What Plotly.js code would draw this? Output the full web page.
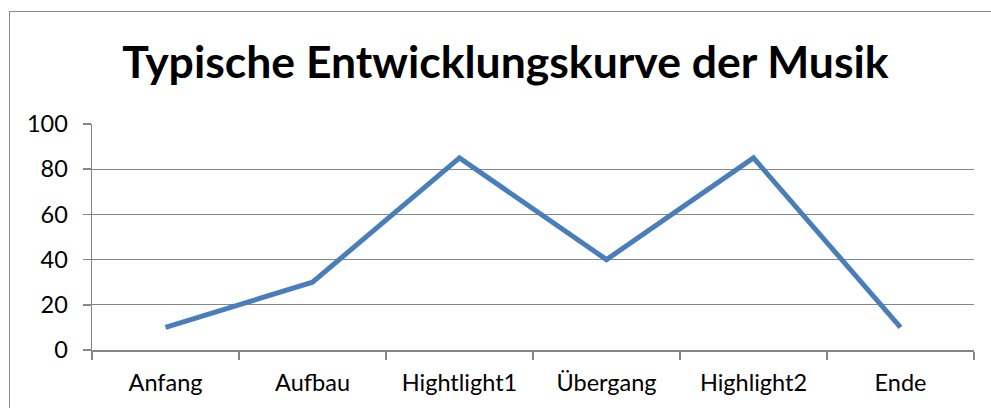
<!DOCTYPE html>
<html><head><meta charset="utf-8">
<script src="https://cdn.plot.ly/plotly-3.0.1.min.js"></script>
<style>
html,body{margin:0;padding:0;background:#fff;overflow:hidden}
#frame{position:absolute;left:9px;top:11px;width:1100px;height:500px;border:1.5px solid #8a8a8a;box-sizing:border-box}
#chart{position:absolute;left:0;top:0;width:991px;height:408px}
</style></head>
<body>
<div id="frame"></div>
<div id="chart"></div>
<script>
const categories = ["Anfang", "Aufbau", "Hightlight1", "Übergang", "Highlight2", "Ende"];
const values = [10, 30, 85, 40, 85, 10];
const yTicks = [0, 20, 40, 60, 80, 100];
const chartTitle = "Typische Entwicklungskurve der Musik";

const trace = {
  x: categories, y: values, type: "scatter", mode: "lines",
  line: {color: "#4a7ebb", width: 5}, hoverinfo: "skip"
};
const layout = {
  width: 991, height: 408,
  paper_bgcolor: "rgba(0,0,0,0)", plot_bgcolor: "rgba(0,0,0,0)",
  margin: {l: 92, r: 17, t: 124, b: 58},
  showlegend: false,
  font: {family: "Lato, 'Open Sans', sans-serif", color: "#000", size: 23},
  title: {text: "<b>" + chartTitle + "</b>", font: {size: 44.5, family: "Lato, 'Open Sans', sans-serif", color: "#000"},
          xref: "container", x: 0.51, xanchor: "center", yref: "container", y: 0.848, yanchor: "middle"},
  xaxis: {type: "category", range: [-0.5, 5.5], showgrid: false, showline: true, linecolor: "#868686", linewidth: 1.5,
          ticks: "outside", tickson: "boundaries", ticklen: 8, tickcolor: "#868686", tickwidth: 1.5,
          ticklabelstandoff: 11, tickfont: {size: 23.5}, fixedrange: true},
  yaxis: {range: [0, 100], tickvals: yTicks, showgrid: true, gridcolor: "#868686", gridwidth: 1.2,
          showline: true, linecolor: "#868686", linewidth: 1.5, ticks: "outside", ticklen: 8,
          tickcolor: "#868686", tickwidth: 1.5, ticklabelstandoff: 10, tickfont: {size: 23.5}, zeroline: false, fixedrange: true}
};
Plotly.newPlot("chart", [trace], layout, {staticPlot: true});
</script>
</body></html>
